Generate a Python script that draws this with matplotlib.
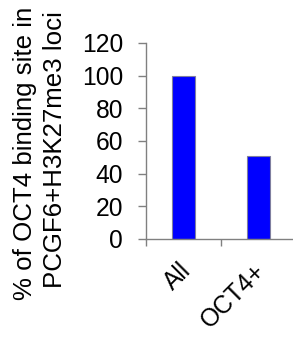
import matplotlib.pyplot as plt
import matplotlib.transforms as mtransforms

categories = ["All", "OCT4+"]
values = [100, 51]
yticks = [0, 20, 40, 60, 80, 100, 120]

plt.rcParams["font.family"] = ["Liberation Sans", "DejaVu Sans"]

W, H = 293, 337
fs = 17.7
fig = plt.figure(figsize=(W / 100, H / 100), dpi=100)
# axes box in pixels: left 146, right 296, top 43, bottom 239
ax = fig.add_axes([146 / W, 1 - 239 / H, 150 / W, (239 - 43) / H])

ax.bar(range(len(categories)), values, width=0.31, color="#0000FF",
       edgecolor="#7f7f9f", linewidth=0.8)

ax.set_xlim(-0.5, 1.5)
ax.set_ylim(0, 120)
ax.set_yticks(yticks)
ax.set_yticklabels([str(v) for v in yticks], fontsize=fs)

# category ticks sit between bars
ax.set_xticks([-0.5, 0.5, 1.5])
ax.set_xticklabels([])
ax.set_xticks([0, 1], minor=True)
ax.set_xticklabels(categories, minor=True, rotation=45, ha="right",
                   rotation_mode="anchor", fontsize=fs)
ax.tick_params(axis="x", which="minor", length=0, pad=14)
ax.tick_params(axis="x", which="major", length=5, color="#808080", width=1)
ax.tick_params(axis="y", length=5.5, color="#808080", width=1, pad=11)

# nudge category labels a little left
offset = mtransforms.ScaledTranslation(-5 / 100, 0, fig.dpi_scale_trans)
for lbl in ax.get_xticklabels(minor=True):
    lbl.set_transform(lbl.get_transform() + offset)

for s in ["top", "right"]:
    ax.spines[s].set_visible(False)
for s in ["left", "bottom"]:
    ax.spines[s].set_color("#808080")
    ax.spines[s].set_linewidth(1)

fig.text(25 / W, 1 - 153 / H, "% of OCT4 binding site in", rotation=90,
         ha="center", va="center", fontsize=18.6)
fig.text(55 / W, 1 - 150 / H, "PCGF6+H3K27me3 loci", rotation=90,
         ha="center", va="center", fontsize=18.6)

fig.savefig("out.png", dpi=100)
